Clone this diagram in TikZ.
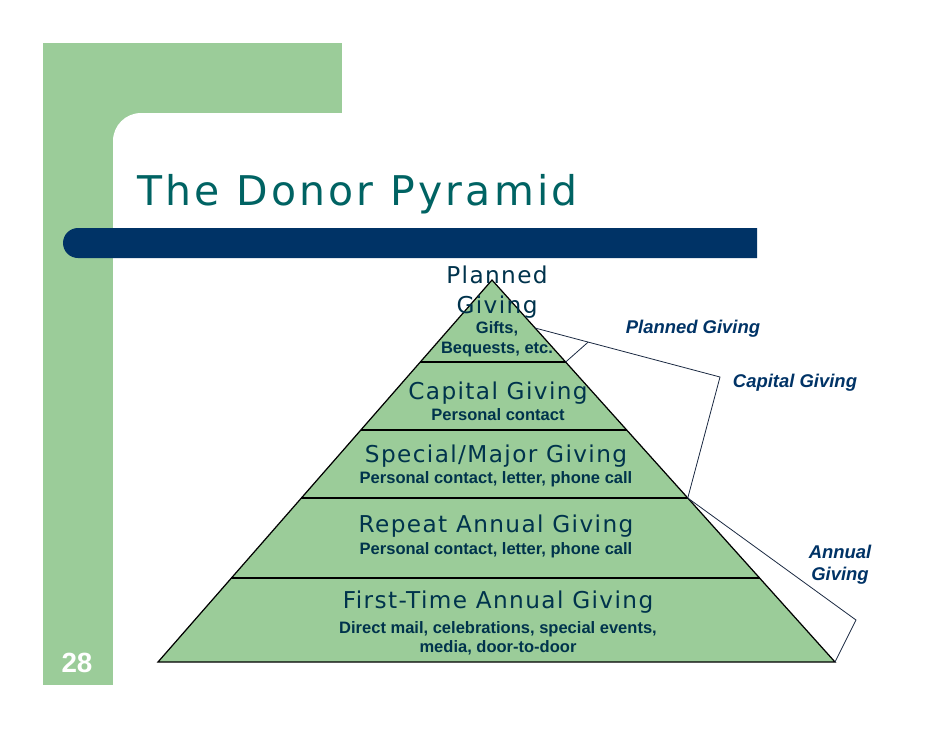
\documentclass[tikz,border=0pt]{standalone}
\usepackage{fontspec}
\setmainfont{Liberation Sans}
\newfontfamily\tierfont[LetterSpace=6]{DejaVu Sans}
\newfontfamily\titlefont[LetterSpace=8]{DejaVu Sans}
\usepackage{tikz}
\usetikzlibrary{calc,positioning}
\usepackage{xcolor}
\definecolor{slidegreen}{RGB}{155,204,153}
\definecolor{barnavy}{RGB}{0,51,102}
\definecolor{titleteal}{RGB}{0,99,99}
\definecolor{tiertext}{RGB}{0,51,76}
\definecolor{bracketline}{RGB}{25,40,65}

\tikzset{
    tierhead/.style={anchor=base, align=center, text=tiertext, font=\tierfont\fontsize{13.2}{17}\selectfont},
    tiernote/.style={anchor=base, align=center, text=tiertext, font=\bfseries\fontsize{9.4}{11.2}\selectfont},
    sidelabel/.style={anchor=base, align=center, text=barnavy, font=\bfseries\itshape\fontsize{10.5}{12.5}\selectfont},
    tierline/.style={line width=0.7pt, black},
    bracket/.style={line width=0.45pt, bracketline}
}

\begin{document}
\begin{tikzpicture}[x=0.02cm, y=-0.02cm]
\useasboundingbox (0,0) rectangle (942,728);
% slide background
\fill[slidegreen] (43,43) rectangle (342,685);
\fill[white, rounded corners=0.56cm] (113,113) rectangle (1000,800);
\fill[barnavy] (757,228) -- (78,228) arc[start angle=90, end angle=270, radius=0.3cm] -- (757,258) -- cycle;
\node[anchor=base west, text=titleteal, font=\titlefont\fontsize{23.3}{28}\selectfont, inner sep=0pt] (title) at (137,205) {The Donor Pyramid};
\node[anchor=base, text=white, font=\bfseries\fontsize{15.8}{18}\selectfont, inner sep=0pt] (pagenum) at (77,672) {28};

% pyramid
\coordinate (apex) at (492,280);
\coordinate (baseL) at (158,662);
\coordinate (baseR) at (835,662);
\filldraw[slidegreen, draw=black, line width=0.7pt] (apex) -- (baseL) -- (baseR) -- cycle;
\foreach \t/\n in {0.2147/a,0.3927/b,0.5707/c,0.7801/d}{
    \coordinate (L\n) at ($(apex)!\t!(baseL)$);
    \coordinate (R\n) at ($(apex)!\t!(baseR)$);
    \draw[tierline] (L\n) -- (R\n);
}

% tier labels (base = last line)
\node[tierhead] (planned) at (497,313) {Planned\\Giving};
\node[tiernote, font=\bfseries\fontsize{9.4}{11.3}\selectfont] (plannednote) at (497,353) {Gifts,\\Bequests, etc.};
\node[tierhead] (capital) at (498,399) {Capital Giving};
\node[tiernote] (capitalnote) at (498,420) {Personal contact};
\node[tierhead] (special) at (496,462) {Special/Major Giving};
\node[tiernote] (specialnote) at (496,483) {Personal contact, letter, phone call};
\node[tierhead] (repeat) at (496,532) {Repeat Annual Giving};
\node[tiernote] (repeatnote) at (496,554) {Personal contact, letter, phone call};
\node[tierhead] (first) at (498,608) {First-Time Annual Giving};
\node[tiernote, font=\bfseries\fontsize{9.4}{10.8}\selectfont] (firstnote) at (498,652) {Direct mail, celebrations, special events,\\media, door-to-door};

% brackets
\coordinate (pgtop) at ($(apex)!0.1257!(baseR)$);
\coordinate (capbend) at (720,377);
\coordinate (pgbend) at ($(pgtop)!0.287!(capbend)$);
\coordinate (annbend) at (856,620);
\draw[bracket] (pgtop) -- (capbend) -- (Rc);
\draw[bracket] (pgbend) -- (Ra);
\draw[bracket] (Rc) -- (annbend) -- (baseR);

\node[sidelabel] (pglabel) at (693,333) {Planned Giving};
\node[sidelabel] (caplabel) at (795,387) {Capital Giving};
\node[sidelabel] (annlabel) at (840,580) {Annual\\Giving};
\end{tikzpicture}
\end{document}
